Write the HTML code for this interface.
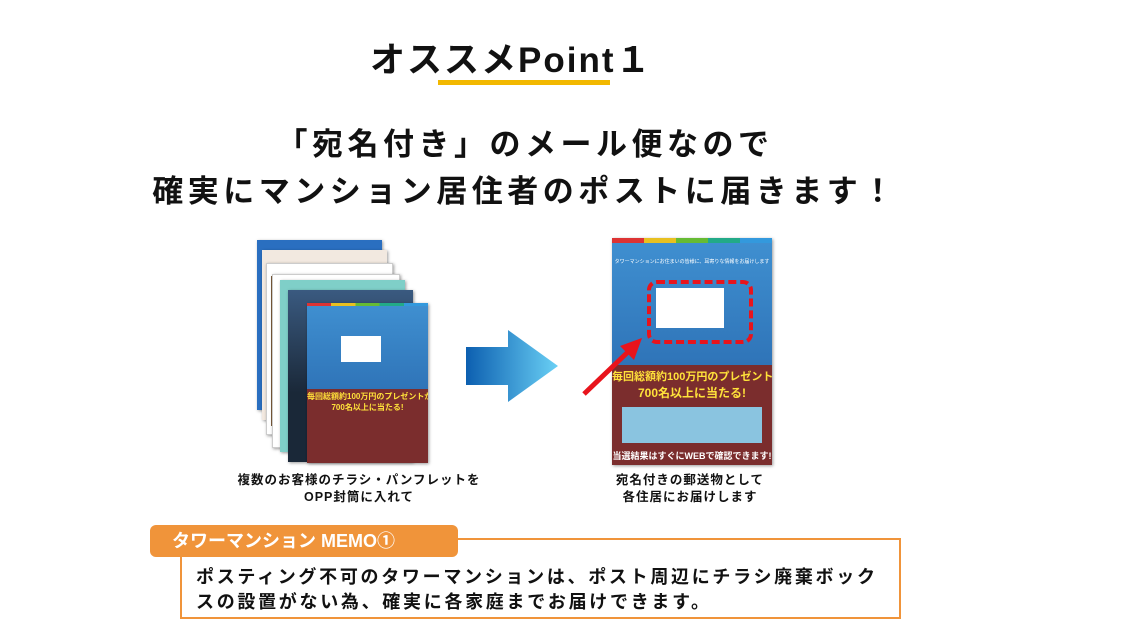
<!DOCTYPE html>
<html><head><meta charset="utf-8"><style>
body{margin:0;width:1126px;height:626px;background:#fff;position:relative;overflow:hidden;font-family:"Liberation Sans","Noto Sans CJK JP",sans-serif;color:#111}
.a{position:absolute}
.fl{position:absolute;overflow:hidden;box-shadow:1px 1px 3px rgba(0,0,0,.4)}
.stripe{height:5px;background:linear-gradient(90deg,#d33 0 20%,#e8c020 20% 40%,#6b3 40% 60%,#2a8 60% 80%,#39d 80% 100%)}
.blue{background:linear-gradient(#3f8fd0,#2f74b8)}
.mar{background:#7b2d2d}
.ylw{color:#ffe23a;font-weight:bold;text-align:center;white-space:nowrap}
.cap{font-weight:bold;font-size:12.5px;text-align:center;line-height:17px;letter-spacing:1px}
</style></head><body>
<div class="a" style="left:370px;top:32px;font-size:35px;font-weight:bold;letter-spacing:2px;white-space:nowrap">オススメPoint１</div>
<div class="a" style="left:438px;top:80px;width:172px;height:5px;background:#f2b800"></div>
<div class="a" style="left:0;width:1050px;top:119px;text-align:center;font-size:31px;font-weight:bold;letter-spacing:4.5px">「宛名付き」のメール便なので</div>
<div class="a" style="left:0;width:1050px;top:166px;text-align:center;font-size:31px;font-weight:bold;letter-spacing:4.5px">確実にマンション居住者のポストに届きます！</div>

<!-- left stack -->
<div class="fl" style="left:257px;top:240px;width:125px;height:170px;background:#2a6fc0"></div>
<div class="fl" style="left:262px;top:250px;width:125px;height:170px;background:#f2e9e0"></div>
<div class="fl" style="left:266px;top:263px;width:125px;height:170px;background:#fff;border:1px solid #ccc"><div style="margin:12px 0 0 4px;width:10px;height:150px;background:#7a5a3a"></div></div>
<div class="fl" style="left:272px;top:274px;width:126px;height:172px;background:#fff;border:1px solid #ccc"></div>
<div class="fl" style="left:280px;top:280px;width:125px;height:172px;background:#7fcfc8"></div>
<div class="fl" style="left:288px;top:290px;width:125px;height:172px;background:linear-gradient(#3a5a80,#1a2838 60%)"></div>
<div class="fl" style="left:307px;top:303px;width:121px;height:160px">
 <div class="stripe" style="height:3px"></div>
 <div class="blue" style="height:83px;position:relative"><div class="a" style="left:34px;top:30px;width:40px;height:26px;background:#fff"></div></div>
 <div class="mar" style="height:74px;padding-top:2px"><div class="ylw" style="font-size:8px">毎回総額約100万円のプレゼントが</div><div class="ylw" style="font-size:8px">700名以上に当たる!</div></div>
</div>
<div class="a cap" style="left:228px;top:472px;width:262px">複数のお客様のチラシ・パンフレットを<br>OPP封筒に入れて</div>

<!-- arrow -->
<svg class="a" style="left:466px;top:330px" width="95" height="72"><defs><linearGradient id="g" x1="0" x2="1"><stop offset="0" stop-color="#0c5fb0"/><stop offset="1" stop-color="#6ad0f5"/></linearGradient></defs><polygon points="0,17 42,17 42,0 92,36 42,72 42,55 0,55" fill="url(#g)"/></svg>

<!-- right flyer -->
<div class="fl" style="left:612px;top:238px;width:160px;height:227px">
 <div class="stripe"></div>
 <div class="blue" style="height:122px;position:relative"><div class="a" style="left:0;width:160px;top:15px;color:#fff;font-size:5px;text-align:center">タワーマンションにお住まいの皆様に、耳寄りな情報をお届けします</div><div class="a" style="left:44px;top:45px;width:68px;height:40px;background:#fff"></div></div>
 <div class="mar" style="height:100px;padding-top:3px"><div class="ylw" style="font-size:11px">毎回総額約100万円のプレゼントが</div><div class="ylw" style="font-size:12px">700名以上に当たる!</div><div style="margin:6px 10px;height:36px;background:#8ac4e0"></div><div class="ylw" style="font-size:9px;color:#fff">当選結果はすぐにWEBで確認できます!</div></div>
</div>
<div class="a" style="left:647px;top:280px;width:98px;height:56px;border:4px dashed #e8141c;border-radius:10px"></div>
<svg class="a" style="left:580px;top:330px" width="70" height="70"><line x1="4" y1="64" x2="50" y2="20" stroke="#e8141c" stroke-width="5"/><polygon points="62,8 40,16 54,30" fill="#e8141c"/></svg>
<div class="a cap" style="left:580px;top:472px;width:220px">宛名付きの郵送物として<br>各住居にお届けします</div>

<!-- memo -->
<div class="a" style="left:180px;top:538px;width:717px;height:77px;border:2px solid #f0943a"></div>
<div class="a" style="left:150px;top:525px;width:308px;height:32px;background:#f0943a;border-radius:6px;color:#fff;font-weight:bold;font-size:18px;line-height:32px;padding-left:22px;box-sizing:border-box">タワーマンション MEMO①</div>
<div class="a" style="left:196px;top:565px;font-size:18px;font-weight:bold;line-height:25px;letter-spacing:2.7px;white-space:nowrap">ポスティング不可のタワーマンションは、ポスト周辺にチラシ廃棄ボック<br>スの設置がない為、確実に各家庭までお届けできます。</div>
</body></html>
